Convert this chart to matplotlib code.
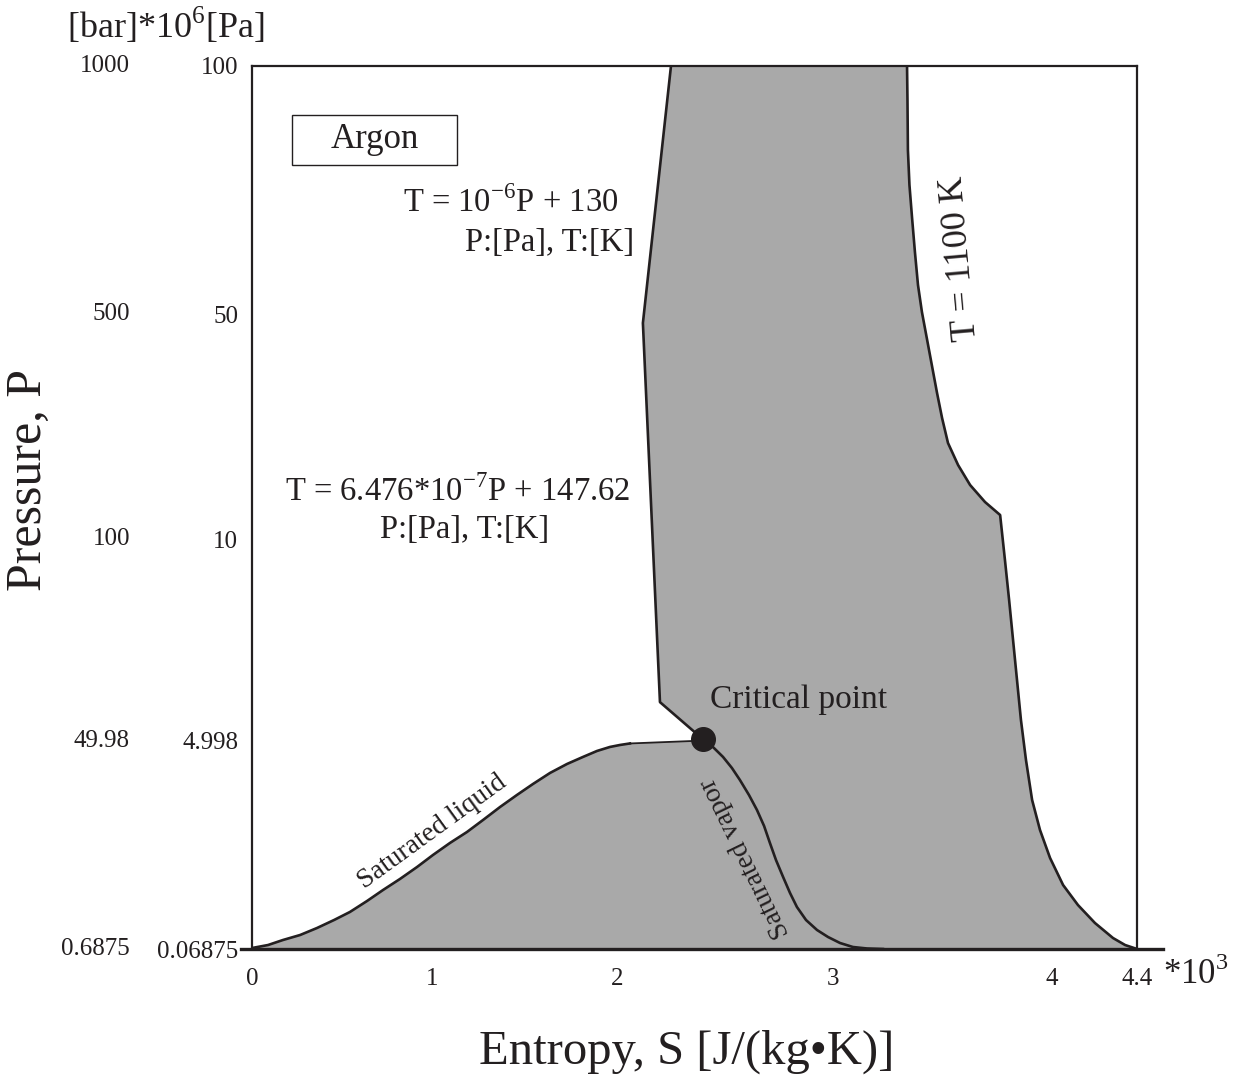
import numpy as np
import matplotlib
matplotlib.use("Agg")
import matplotlib.pyplot as plt
from matplotlib.patches import Rectangle

plt.rcParams['font.family'] = ['Liberation Serif', 'DejaVu Serif']
plt.rcParams['mathtext.fontset'] = 'custom'
plt.rcParams['mathtext.rm'] = 'Liberation Serif'

# tick values (the chart is schematic: ticks are not evenly spaced)
s_ticks = [0, 1, 2, 3, 4, 4.4]
p_ticks = [0.06875, 4.998, 10, 50, 100]
p_labels_pa = ['0.06875', '4.998', '10', '50', '100']
p_labels_bar = ['0.6875', '49.98', '100', '500', '1000']

# entropy [10^3 J/(kg K)], pressure [MPa]
liq_s = [0, 0.089, 0.172, 0.267, 0.361, 0.456, 0.544, 0.639, 0.728, 0.822,
         0.917, 1.005, 1.097, 1.189, 1.276, 1.368, 1.459, 1.546, 1.638, 1.730,
         1.816, 1.892, 1.962, 2.014, 2.060, 2.352, 2.398]
liq_p = [0.092, 0.163, 0.282, 0.400, 0.566, 0.756, 0.946, 1.206, 1.467, 1.728,
         2.012, 2.296, 2.581, 2.841, 3.126, 3.434, 3.718, 3.979, 4.240, 4.453,
         4.619, 4.761, 4.856, 4.903, 4.939, 4.998, 5.04]

vap_s = [2.398, 2.444, 2.491, 2.532, 2.569, 2.611, 2.648, 2.681, 2.708, 2.736,
         2.769, 2.801, 2.833, 2.875, 2.926, 2.977, 3.032, 3.091, 3.155, 3.228]
vap_p = [5.04, 4.856, 4.619, 4.358, 4.074, 3.718, 3.363, 2.983, 2.581, 2.178,
         1.775, 1.396, 1.064, 0.756, 0.519, 0.353, 0.211, 0.116, 0.081, 0.06875]

# supercritical boundary (left side), top to critical point
sc_s = [2.25, 2.12, 2.199, 2.398]
sc_p = [100, 48.4, 5.96, 5.04]

# T = 1100 K isotherm, top to bottom
iso_s = [3.338, 3.340, 3.342, 3.349, 3.361, 3.374, 3.388, 3.406, 3.429, 3.452,
         3.475, 3.498, 3.525, 3.571, 3.626, 3.694, 3.763,
         3.785, 3.804, 3.822, 3.840, 3.858, 3.881, 3.909, 3.945, 3.991, 4.052,
         4.122, 4.202, 4.287, 4.344, 4.4]
iso_p = [100, 93.14, 83.06, 76.01, 69.35, 62.50, 55.85, 50.40, 45.56, 40.76,
         35.96, 31.51, 27.07, 23.16, 19.60, 16.58, 14.27,
         9.48, 8.49, 7.50, 6.51, 5.52, 4.548, 3.600, 2.889, 2.225, 1.585,
         1.111, 0.685, 0.329, 0.163, 0.06875]

crit_s, crit_p = 2.398, 5.04

# where each tick sits along the axis (fraction of axis length)
s_pos = [0, 0.2034, 0.4124, 0.6565, 0.904, 1.0]
p_pos = [0, 0.2356, 0.4643, 0.7191, 1.0]

ink = '#231f20'
gray = '#a9a9a9'

fig = plt.figure(figsize=(12.34, 10.86), dpi=100)
ax = fig.add_axes([252 / 1234, 137 / 1086, 885 / 1234, 883 / 1086])

ax.set_xscale('function', functions=(lambda v: np.interp(v, s_ticks, s_pos),
                                     lambda u: np.interp(u, s_pos, s_ticks)))
ax.set_yscale('function', functions=(lambda v: np.interp(v, p_ticks, p_pos),
                                     lambda u: np.interp(u, p_pos, p_ticks)))
ax.set_xlim(0, 4.4)
ax.set_ylim(0.06875, 100)

# shaded region: dome under the liquid line + band between boundary and isotherm
poly_s = [0] + liq_s + sc_s[::-1][1:] + iso_s + [0]
poly_p = [0.06875] + liq_p + sc_p[::-1][1:] + iso_p + [0.06875]
ax.fill(poly_s, poly_p, color=gray, lw=0, zorder=1)

ax.plot(liq_s[:25], liq_p[:25], color=ink, lw=1.9, zorder=3)
ax.plot(liq_s[24:], liq_p[24:], color=ink, lw=1.3, zorder=3)
ax.plot(vap_s, vap_p, color=ink, lw=1.9, zorder=3)
ax.plot(sc_s, sc_p, color=ink, lw=1.9, zorder=3)
ax.plot(iso_s, iso_p, color=ink, lw=1.9, zorder=3)
ax.plot([crit_s], [crit_p], 'o', color=ink, ms=17, zorder=4)

for side in ['left', 'top', 'right']:
    ax.spines[side].set_linewidth(1.6)
    ax.spines[side].set_color(ink)
ax.spines['bottom'].set_visible(False)
# bottom line runs past both ends of the frame
ax.plot([-0.0124, 1.0294], [0, 0], transform=ax.transAxes, color=ink,
        lw=2.4, clip_on=False, zorder=5)

ax.set_xticks(s_ticks, labels=['0', '1', '2', '3', '4', '4.4'])
ax.set_yticks(p_ticks, labels=p_labels_pa)
ax.tick_params(axis='x', length=0, pad=14, labelsize=18, labelcolor=ink)
ax.tick_params(axis='y', length=0, pad=10, labelsize=18, labelcolor=ink)
ax.minorticks_off()

for p, lab in zip(p_ticks, p_labels_bar):
    ax.text(-0.138, p, lab, transform=ax.get_yaxis_transform(), ha='right',
            va='center', fontsize=18, color=ink)

fig.text(0.1345, 0.976, r'[bar]*10$^{\mathregular{6}}$[Pa]', ha='center', va='center',
         fontsize=26, color=ink)
fig.text(0.0235, 0.558, 'Pressure, P', rotation=90, ha='center', va='center',
         fontsize=36, color=ink)
fig.text(0.5567, 0.0313, 'Entropy, S [J/(kg\u2022K)]', ha='center', va='center',
         fontsize=35, color=ink)
fig.text(0.969, 0.1022, r'*10$^{\mathregular{3}}$', ha='center', va='center',
         fontsize=25, color=ink)

ax.add_patch(Rectangle((0.0452, 0.8879), 0.1864, 0.0566, transform=ax.transAxes,
                       fill=False, lw=1.0, edgecolor=ink, zorder=5))
ax.text(0.1384, 0.9162, 'Argon', transform=ax.transAxes, ha='center', va='center',
        fontsize=25, color=ink)

ax.text(0.2927, 0.8448, r'T = 10$^{\mathregular{-6}}$P + 130', transform=ax.transAxes,
        ha='center', va='center', fontsize=23.5, color=ink)
ax.text(0.3367, 0.7995, 'P:[Pa], T:[K]', transform=ax.transAxes,
        ha='center', va='center', fontsize=23.5, color=ink)
ax.text(0.2328, 0.5176, r'T = 6.476*10$^{\mathregular{-7}}$P + 147.62', transform=ax.transAxes,
        ha='center', va='center', fontsize=23.5, color=ink)
ax.text(0.2407, 0.4745, 'P:[Pa], T:[K]', transform=ax.transAxes,
        ha='center', va='center', fontsize=23.5, color=ink)

ax.text(0.6181, 0.2820, 'Critical point', transform=ax.transAxes,
        ha='center', va='center', fontsize=24, color=ink, zorder=6)
ax.text(0.2034, 0.1325, 'Saturated liquid', transform=ax.transAxes, rotation=36,
        ha='center', va='center', fontsize=20, color=ink, zorder=6)
ax.text(0.557, 0.103, 'Saturated vapor', transform=ax.transAxes, rotation=116,
        ha='center', va='center', fontsize=20, color=ink, zorder=6)
ax.text(0.800, 0.7826, 'T = 1100 K', transform=ax.transAxes, rotation=95,
        ha='center', va='center', fontsize=26, color=ink, zorder=6)

fig.savefig('out.png', dpi=100)
